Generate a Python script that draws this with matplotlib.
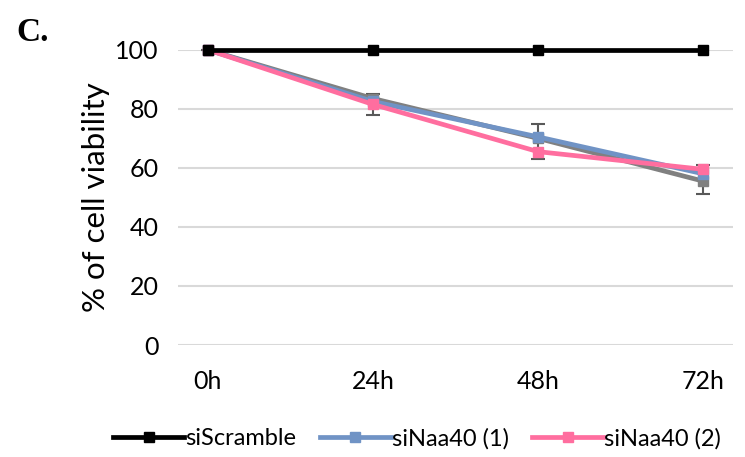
import matplotlib.pyplot as plt
import numpy as np

plt.rcParams['font.family'] = ['Lato', 'DejaVu Sans']

times = ['0h', '24h', '48h', '72h']
scramble = [100, 100, 100, 100]
naa40_1 = [100, 82.5, 70.5, 58]
naa40_grey = [100, 83.5, 70, 55.5]
naa40_2 = [100, 81.5, 65.5, 59.5]
err_lo = [0, 5.5, 7, 4.5]
err_hi = [0, 1.5, 5, 5.5]

x = np.arange(len(times))

fig = plt.figure(figsize=(7.45, 4.57), dpi=100)
ax = fig.add_axes([0.239, 0.245, 0.745, 0.646])

ax.plot(x, naa40_1, color='#7093c5', linewidth=3.4, marker='s', markersize=7.5,
        zorder=3, clip_on=False, label='siNaa40 (1)')
ax.errorbar(x, naa40_grey, yerr=[err_lo, err_hi], color='#808080', ecolor='#595959',
            elinewidth=1.5, capsize=5, capthick=1.5, linewidth=3.4, marker='s',
            markersize=7.5, zorder=2, clip_on=False)
ax.plot(x, naa40_2, color='#ff6e9f', linewidth=3.4, marker='s', markersize=7.5,
        zorder=4, clip_on=False, label='siNaa40 (2)')
ax.plot(x, scramble, color='black', linewidth=3.4, marker='s', markersize=7.5,
        zorder=5, clip_on=False, label='siScramble')

ax.set_xlim(-0.18, 3.18)
ax.set_ylim(0, 100)
ax.set_yticks(range(0, 101, 20))
ax.set_xticks(x)
ax.set_xticklabels(times)
ax.tick_params(length=0, labelsize=18, colors='black')
ax.tick_params(axis='x', pad=18)
ax.tick_params(axis='y', pad=14)
ax.grid(axis='y', color='#d9d9d9', linewidth=1.5)
ax.set_axisbelow(True)
for s in ax.spines.values():
    s.set_visible(False)
ax.set_ylabel('% of cell viability', fontsize=22.5, labelpad=4)

h, l = ax.get_legend_handles_labels()
order = [2, 0, 1]
fig.legend([h[i] for i in order], [l[i] for i in order], loc='lower center',
           bbox_to_anchor=(0.56, -0.03), ncol=3, frameon=False, fontsize=17,
           handlelength=3.0, handletextpad=0.05, columnspacing=1.0)

fig.text(0.022, 0.91, 'C.', family='Liberation Serif', fontweight='bold', fontsize=24)

fig.savefig('out.png', dpi=100)
